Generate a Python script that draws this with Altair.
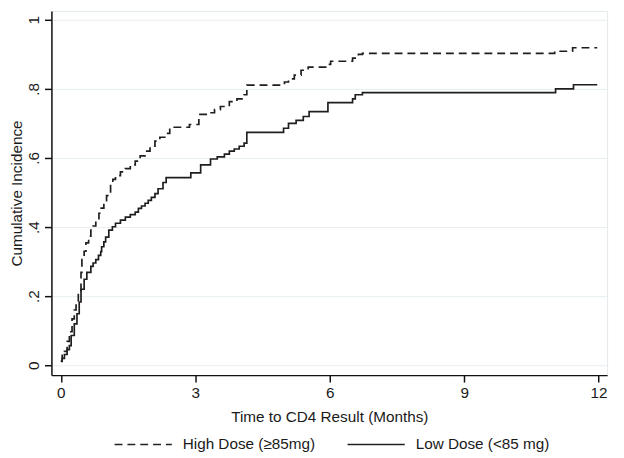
import altair as alt
import pandas as pd

groups = ["High Dose (≥85mg)", "Low Dose (<85 mg)"]

high_time = [0.00, 0.03, 0.08, 0.14, 0.19, 0.25, 0.30, 0.34, 0.39, 0.45, 0.47, 0.52, 0.56, 0.62, 0.67, 0.72,
             0.78, 0.85, 0.90, 0.96, 1.02, 1.11, 1.16, 1.22, 1.33, 1.44, 1.55, 1.66, 1.77, 1.88, 1.99,
             2.10, 2.21, 2.32, 2.43, 2.87, 3.08, 3.32, 3.43, 3.56, 3.76, 3.93, 4.09, 4.15, 4.99,
             5.08, 5.21, 5.36, 5.52, 5.91, 6.02, 6.51, 6.64, 6.73, 11.02, 11.42, 11.97]
high_value = [0.012, 0.029, 0.040, 0.069, 0.097, 0.134, 0.160, 0.183, 0.211, 0.269, 0.306, 0.330, 0.354, 0.374, 0.391, 0.403,
              0.414, 0.440, 0.455, 0.471, 0.491, 0.526, 0.538, 0.549, 0.560, 0.569, 0.580, 0.591, 0.606, 0.620, 0.634,
              0.649, 0.660, 0.671, 0.689, 0.697, 0.726, 0.731, 0.740, 0.749, 0.763, 0.771, 0.783, 0.811, 0.820,
              0.829, 0.840, 0.854, 0.863, 0.871, 0.880, 0.889, 0.900, 0.903, 0.909, 0.919, 0.919]

low_time = [0.00, 0.03, 0.08, 0.14, 0.19, 0.23, 0.30, 0.36, 0.41, 0.45, 0.52, 0.58, 0.67, 0.72, 0.78, 0.84,
            0.89, 0.91, 0.96, 1.00, 1.07, 1.15, 1.22, 1.33, 1.44, 1.55, 1.66, 1.73, 1.80, 1.88, 1.95, 2.02,
            2.10, 2.17, 2.28, 2.35, 2.90, 3.12, 3.34, 3.49, 3.65, 3.76, 3.87, 3.98, 4.09, 4.15, 4.97,
            5.08, 5.25, 5.41, 5.54, 5.96, 6.51, 6.57, 6.73, 11.04, 11.44, 11.97]
low_value = [0.011, 0.020, 0.031, 0.045, 0.057, 0.086, 0.120, 0.149, 0.183, 0.220, 0.249, 0.269, 0.286, 0.296, 0.306, 0.318,
             0.329, 0.343, 0.357, 0.371, 0.391, 0.401, 0.411, 0.420, 0.429, 0.436, 0.443, 0.454, 0.461, 0.469, 0.477, 0.486,
             0.497, 0.511, 0.529, 0.543, 0.557, 0.580, 0.597, 0.603, 0.611, 0.620, 0.626, 0.634, 0.643, 0.674, 0.686,
             0.700, 0.709, 0.720, 0.734, 0.760, 0.771, 0.783, 0.789, 0.800, 0.812, 0.812]

x_ticks = [0, 3, 6, 9, 12]
y_ticks = [0, 0.2, 0.4, 0.6, 0.8, 1]

df = pd.concat([
    pd.DataFrame({"time": high_time, "value": high_value, "group": groups[0]}),
    pd.DataFrame({"time": low_time, "value": low_value, "group": groups[1]}),
], ignore_index=True)

FONT = "Liberation Sans"
INK = "#1a1a1a"
FS = 15.5

chart = alt.Chart(df).mark_line(
    interpolate="step-after", color="#1e1e1e", strokeWidth=1.7
).encode(
    x=alt.X("time:Q",
            scale=alt.Scale(domain=[-0.21, 12.19], nice=False, zero=False),
            axis=alt.Axis(values=x_ticks, title="Time to CD4 Result (Months)", grid=False,
                          tickSize=7, labelPadding=4, titlePadding=8)),
    y=alt.Y("value:Q",
            scale=alt.Scale(domain=[-0.0286, 1.0257], nice=False, zero=False),
            axis=alt.Axis(values=y_ticks, title="Cumulative Incidence", grid=True,
                          tickSize=7, labelPadding=3, titlePadding=2,
                          labelAngle=270, labelAlign="center", labelBaseline="bottom",
                          labelExpr="datum.value == 0 ? '0' : datum.value == 1 ? '1' : replace(format(datum.value, '.1f'), '0.', '.')")),
    strokeDash=alt.StrokeDash("group:N",
                              scale=alt.Scale(domain=groups, range=[[8, 5], [1, 0]]),
                              legend=alt.Legend(title=None, orient="none", direction="horizontal",
                                                legendX=63, legendY=409,
                                                symbolType="stroke", symbolSize=3364,
                                                symbolStrokeWidth=1.5, symbolStrokeColor="#222222",
                                                labelFontSize=FS, labelFont=FONT, labelColor=INK,
                                                labelOffset=10, columnPadding=29, labelLimit=300)),
).properties(
    width=563, height=369,
    autosize=alt.AutoSizeParams(type="none"),
    padding={"left": 44, "top": 0, "right": 9, "bottom": 80},
).configure_view(
    stroke="#e3eaec", strokeWidth=1
).configure_axis(
    labelFont=FONT, titleFont=FONT, labelFontSize=FS, titleFontSize=FS,
    labelColor=INK, titleColor=INK, titleFontWeight="normal",
    domainColor="#111111", domainWidth=1.5, tickColor="#111111", tickWidth=1.5,
    gridColor="#e6eef0", gridWidth=1,
)

chart.save("out.html", embed_options={"renderer": "svg", "actions": False})
